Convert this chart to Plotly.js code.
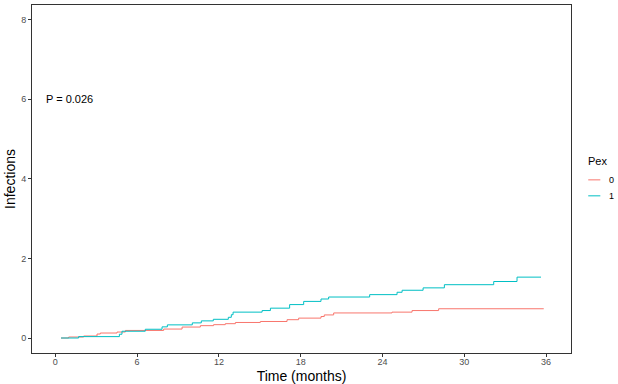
<!DOCTYPE html>
<html>
<head>
<meta charset="utf-8">
<script src="https://cdn.plot.ly/plotly-3.0.1.min.js"></script>
<style>html,body{margin:0;padding:0;background:#fff;}#plot{width:618px;height:384px;}</style>
</head>
<body>
<div id="plot"></div>
<script>
// Group Pex = 0
var time0 = [0.42, 0.98, 2.08, 3.06, 3.30, 4.53, 5.14, 7.95, 9.30, 10.64, 11.61, 12.47, 13.21, 15.04, 17.00, 17.85, 19.49, 19.73, 20.42, 24.70, 26.17, 28.12, 35.83];
var inf0  = [0, 0.025, 0.05, 0.10, 0.125, 0.15, 0.19, 0.225, 0.275, 0.31, 0.335, 0.36, 0.39, 0.415, 0.46, 0.50, 0.54, 0.58, 0.63, 0.65, 0.69, 0.735, 0.735];
// Group Pex = 1
var time1 = [0.42, 1.71, 4.70, 4.89, 6.60, 7.83, 8.22, 10.05, 10.71, 11.59, 12.69, 12.91, 13.04, 15.17, 15.78, 17.19, 18.22, 19.49, 20.05, 23.06, 25.07, 25.44, 26.98, 28.54, 32.16, 33.87, 35.63];
var inf1  = [0, 0.035, 0.095, 0.17, 0.22, 0.28, 0.33, 0.38, 0.43, 0.47, 0.52, 0.585, 0.65, 0.69, 0.75, 0.84, 0.92, 0.98, 1.03, 1.09, 1.15, 1.20, 1.26, 1.34, 1.42, 1.53, 1.53];
var groups = ["0", "1"];
var colors = ["#F8766D", "#00BFC4"];
var legendTitle = "Pex";
var pLabel = "P = 0.026";
var xTicks = [0, 6, 12, 18, 24, 30, 36];
var yTicks = [0, 2, 4, 6, 8];

var font = "Liberation Sans, Arial, sans-serif";
var traces = [
  {x: time0, y: inf0, mode: "lines", line: {shape: "hv", color: colors[0], width: 1}, name: groups[0], showlegend: false},
  {x: time1, y: inf1, mode: "lines", line: {shape: "hv", color: colors[1], width: 1}, name: groups[1], showlegend: false}
];

var legY = [0.4975, 0.4516];
var shapes = [], annotations = [];
groups.forEach(function(g, i){
  shapes.push({type: "line", xref: "paper", yref: "paper", x0: 1.032, x1: 1.0544, y0: legY[i], y1: legY[i], line: {color: colors[i], width: 1}});
  annotations.push({xref: "paper", yref: "paper", x: 1.066, y: legY[i], text: g, showarrow: false, xanchor: "left", yanchor: "middle", font: {family: font, size: 9, color: "#000"}});
});
annotations.push({xref: "paper", yref: "paper", x: 1.027, y: 0.551, text: legendTitle, showarrow: false, xanchor: "left", yanchor: "middle", font: {family: font, size: 11, color: "#000"}});
annotations.push({xref: "x", yref: "y", x: -0.85, y: 6, text: pLabel, showarrow: false, xanchor: "left", yanchor: "middle", font: {family: font, size: 11, color: "#000"}});

var axisCommon = {
  showgrid: false, zeroline: false, showline: true, mirror: true,
  linecolor: "#333333", linewidth: 1,
  ticks: "outside", ticklen: 3, tickcolor: "#333333", tickwidth: 1,
  tickfont: {family: font, size: 9, color: "#4D4D4D"},
  tickmode: "array"
};

var layout = {
  width: 618, height: 384,
  margin: {l: 32, r: 47, t: 5, b: 31, pad: 0},
  paper_bgcolor: "#fff", plot_bgcolor: "#fff",
  xaxis: Object.assign({}, axisCommon, {
    range: [-1.71, 37.83], tickvals: xTicks, ticktext: xTicks.map(String),
    ticklabelstandoff: -3,
    title: {text: "Time (months)", font: {family: font, size: 14, color: "#000"}, standoff: 8}
  }),
  yaxis: Object.assign({}, axisCommon, {
    range: [-0.377, 8.37], tickvals: yTicks, ticktext: yTicks.map(String),
    title: {text: "Infections", font: {family: font, size: 14, color: "#000"}, standoff: 2}
  }),
  shapes: shapes,
  annotations: annotations,
  showlegend: false
};

Plotly.newPlot("plot", traces, layout, {displayModeBar: false, staticPlot: true});
</script>
</body>
</html>
